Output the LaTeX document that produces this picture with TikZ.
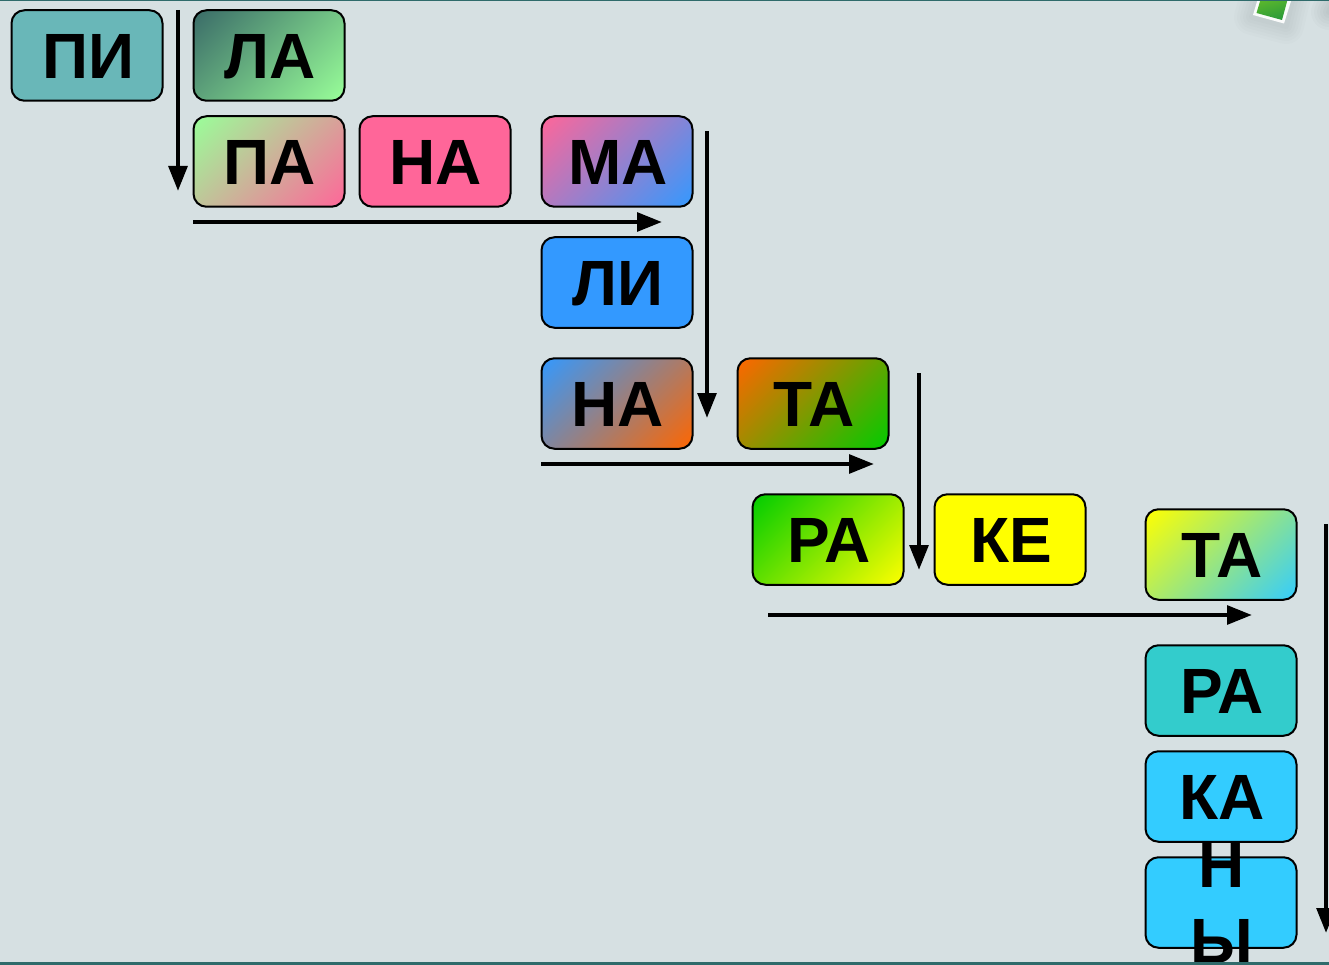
\documentclass[tikz,border=0pt]{standalone}
\usepackage{fontspec}
\setmainfont{Liberation Sans}
\usetikzlibrary{arrows.meta}
\definecolor{bgc}{HTML}{D6E0E2}
\definecolor{barc}{HTML}{2F6B6B}
\definecolor{pi}{HTML}{69B7B8}
\definecolor{la}{HTML}{3A6B68}
\definecolor{lg}{HTML}{99FF99}
\definecolor{pk}{HTML}{FF6699}
\definecolor{bl}{HTML}{3399FF}
\definecolor{og}{HTML}{FF6600}
\definecolor{gr}{HTML}{00CC00}
\definecolor{ye}{HTML}{FFFF00}
\definecolor{tq}{HTML}{33CCCC}
\definecolor{cy}{HTML}{33CCFF}
\definecolor{sqa}{HTML}{5CB82C}
\definecolor{sqb}{HTML}{2A9A3A}
\pgfdeclareverticalshading[gradA,gradB]{cornerfade}{100bp}{color(0bp)=(gradB); color(14.6bp)=(gradB); color(85.4bp)=(gradA); color(100bp)=(gradA)}
\tikzset{
 x=1pt,y=-1pt,
 box/.style={draw=black,line width=2pt,rounded corners=13pt,minimum width=151pt,minimum height=90.5pt,inner sep=0pt,
   font=\fontsize{64}{64}\bfseries\selectfont,text height=46pt,text depth=0pt,text=black,
   execute at begin node={\kern2pt}},
 grad/.style 2 args={box,/utils/exec={\colorlet{gradA}{#1}\colorlet{gradB}{#2}},shade,shading=cornerfade,shading angle=45},
 flow/.style={line width=4.4pt,-{Triangle[length=25pt,width=18.5pt]}},
 letter/.style={font=\fontsize{64}{64}\bfseries\selectfont,text height=46pt,text depth=0pt,inner sep=0pt,text=black}
}
\begin{document}
\begin{tikzpicture}
\useasboundingbox (0,0) rectangle (1329,965);
\fill[bgc] (0,0) rectangle (1329,965);
% soft shadows at top right
\foreach \w in {36,30,24,18,12,6}{
  \draw[black,opacity=0.012,line width=\w pt,line cap=round,line join=round] (1258,-4) -- (1252,17) -- (1286,26) -- (1293,-4);
  \draw[black,opacity=0.016,line width=\w pt,line cap=round] (1329,12) -- (1340,-10);
}
\fill[white!88!bgc] (1258,-2) -- (1253,15) -- (1284,23.5) -- (1292,-2) -- cycle;
\shade[left color=sqa,right color=sqb,shading angle=15] (1261,-2) -- (1256.5,13) -- (1282,20) -- (1288,-2) -- cycle;
% boxes
\node[box,fill=pi] (pi1) at (87,55.5) {ПИ};
\node[grad={la}{lg}] (la1) at (269,55.5) {ЛА};
\node[grad={lg}{pk}] (pa1) at (269,161.5) {ПА};
\node[box,fill=pk] (na1) at (435,161.5) {НА};
\node[grad={pk}{bl}] (ma1) at (617,161.5) {МА};
\node[box,fill=bl] (li1) at (617,282.5) {ЛИ};
\node[grad={bl}{og}] (na2) at (617,403.5) {НА};
\node[grad={og}{gr}] (ta1) at (813,403.5) {ТА};
\node[grad={gr}{ye}] (ra1) at (828,539.5) {РА};
\node[box,fill=ye] (ke1) at (1010,539.5) {КЕ};
\node[grad={ye}{cy}] (ta2) at (1221,554.5) {ТА};
\node[box,fill=tq] (ra2) at (1221,690.5) {РА};
\node[box,fill=cy] (ny1) at (1221,902.5) {};
\node[box,fill=cy] (ka1) at (1221,796.5) {КА};
\node[letter] (n1) at (1222,864) {Н};
\node[letter] (y1) at (1222,940) {Ы};
% arrow ends
\coordinate (a1s) at (178,10);   \coordinate (a1e) at (178,191);
\coordinate (a2s) at (193,222);  \coordinate (a2e) at (662,222);
\coordinate (a3s) at (707,131);  \coordinate (a3e) at (707,418);
\coordinate (a4s) at (541,464);  \coordinate (a4e) at (874,464);
\coordinate (a5s) at (919,373);  \coordinate (a5e) at (919,570);
\coordinate (a6s) at (768,615);  \coordinate (a6e) at (1252,615);
\coordinate (a7s) at (1326,524); \coordinate (a7e) at (1326,933);
\draw[flow] (a1s) -- (a1e);
\draw[flow] (a2s) -- (a2e);
\draw[flow] (a3s) -- (a3e);
\draw[flow] (a4s) -- (a4e);
\draw[flow] (a5s) -- (a5e);
\draw[flow] (a6s) -- (a6e);
\draw[flow] (a7s) -- (a7e);
\fill[barc] (0,0) rectangle (1329,1.5);
\fill[barc] (0,962) rectangle (1329,965);
\end{tikzpicture}
\end{document}
